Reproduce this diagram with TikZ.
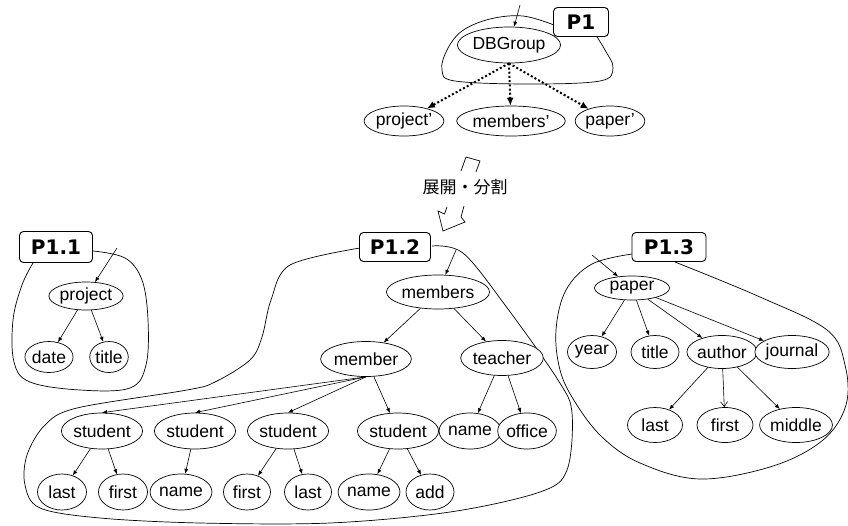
\documentclass[tikz,border=0pt]{standalone}
\usepackage{fontspec}
\setmainfont{Liberation Sans}
\newfontfamily\labelfont{DejaVu Sans}
\newfontfamily\jpfont{Noto Sans CJK JP}
\usetikzlibrary{arrows.meta,shapes.geometric}

\tikzset{
  elem/.style={ellipse, draw, line width=0.7pt, inner sep=0pt, fill=white,
    font=\fontsize{17.5}{17.5}\selectfont},
  part/.style={draw, rounded corners=4pt, line width=0.9pt, fill=white, inner sep=0pt,
    font=\labelfont\bfseries\fontsize{20}{20}\selectfont},
  edge/.style={line width=0.6pt, -{Latex[length=5pt,width=4pt]}},
  openedge/.style={line width=0.6pt, -{Straight Barb[length=5pt,width=7pt]}},
  split/.style={line width=2pt, dash pattern=on 2pt off 2.2pt, -{Latex[length=8pt,width=7pt]}},
  region/.style={line width=0.7pt},
  bolt/.style={line width=0.7pt, line join=miter}
}

\begin{document}
\begin{tikzpicture}[x=1pt,y=-1pt]
\useasboundingbox (0,0) rectangle (848,525);

% ---------- fragment outlines ----------
\draw[region] plot[smooth, tension=0.6] coordinates {(554,25) (523,16) (490,19) (462,31) (447,50) (442,70) (455,81) (530,84) (600,81) (613,68) (605,50) (597,37)};
\draw[region] plot[smooth, tension=0.6] coordinates {(93,251) (125,258) (142,280) (148,320) (146,365) (130,388) (80,390) (30,382) (14,362) (13,320) (22,285) (33,263)};
\draw[region] plot[smooth, tension=0.55] coordinates {(360,248) (290,265) (271,300) (262,337) (250,360) (215,382) (187,390) (77,408) (45,425) (27,455) (25,485) (40,508) (100,518) (200,523) (330,523) (450,512) (540,492) (567,470) (572,413) (558,380) (505,305) (463,253) (432,246)};
\draw[region] plot[smooth, tension=0.6] coordinates {(632,254) (592,264) (566,290) (556,330) (560,370) (575,402) (602,437) (640,463) (700,479) (773,466) (823,440) (846,405) (845,365) (827,330) (760,297) (675,262)};

% ---------- fragment labels ----------
\node[part, minimum width=55pt, minimum height=29pt] (p1) at (581,22) {P1};
\node[part, minimum width=73pt, minimum height=31pt] (p11) at (56,247) {P1.1};
\node[part, minimum width=71pt, minimum height=29pt] (p12) at (395,247) {P1.2};
\node[part, minimum width=74pt, minimum height=29pt] (p13) at (669,247) {P1.3};

% ---------- top level ----------
\node[elem, minimum width=80pt, minimum height=36pt] (dbg) at (509,45) {DBGroup};
\node[elem, minimum width=78pt, minimum height=30pt] (projp) at (404,121) {project'};
\node[elem, minimum width=92pt, minimum height=30pt] (membp) at (511,121) {members'};
\node[elem, minimum width=60pt, minimum height=30pt] (paperp) at (610,121) {paper'};

\coordinate (in0) at (520,5);
\draw[edge] (in0) -- (dbg);
\draw[split] (dbg.south) -- (projp);
\draw[split] (dbg.south) -- (membp);
\draw[split] (dbg.south) -- (paperp);

% ---------- expand / split arrow ----------
\coordinate (b1) at (461,171); \coordinate (b2) at (466,157);
\coordinate (b3) at (480,161); \coordinate (b4) at (476,172);
\draw[bolt] (b1) -- (b2) -- (b3) -- (b4);
\coordinate (c1) at (447,207); \coordinate (c2) at (444.5,214);
\coordinate (c3) at (438,211); \coordinate (c4) at (443,231);
\coordinate (c5) at (465,222); \coordinate (c6) at (461,217);
\coordinate (c7) at (464,206);
\draw[bolt] (c1) -- (c2) -- (c3) -- (c4) -- (c5) -- (c6) -- (c7);
\node[font=\jpfont\fontsize{17}{17}\selectfont, inner sep=1pt] (split) at (465,187) {展開・分割};

% ---------- P1.1 ----------
\node[elem, minimum width=74pt, minimum height=28pt] (project) at (86,296) {project};
\node[elem, minimum width=47pt, minimum height=31pt] (date) at (49,357) {date};
\node[elem, minimum width=38pt, minimum height=31pt] (ptitle) at (109,357) {title};
\coordinate (in1) at (117,248);
\draw[edge] (in1) -- (project);
\draw[edge] (project) -- (date);
\draw[edge] (project) -- (ptitle);

% ---------- P1.2 ----------
\node[elem, minimum width=79pt, minimum height=34pt] (members) at (438,292) {members};
\node[elem, minimum width=67pt, minimum height=35pt] (member) at (366,359) {member};
\node[elem, minimum width=68pt, minimum height=35pt] (teacher) at (502,358) {teacher};
\node[elem, minimum width=67pt, minimum height=36pt] (s1) at (102,431) {student};
\node[elem, minimum width=66pt, minimum height=36pt] (s2) at (195,431) {student};
\node[elem, minimum width=64pt, minimum height=36pt] (s3) at (288,431) {student};
\node[elem, minimum width=67pt, minimum height=36pt] (s4) at (398,431) {student};
\node[elem, minimum width=47pt, minimum height=36pt] (tname) at (470,431) {name};
\node[elem, minimum width=47pt, minimum height=36pt] (office) at (527,431) {office};
\node[elem, minimum width=49pt, minimum height=36pt] (s1last) at (62,492) {last};
\node[elem, minimum width=49pt, minimum height=36pt] (s1first) at (123,492) {first};
\node[elem, minimum width=47pt, minimum height=36pt] (s2name) at (181,492) {name};
\node[elem, minimum width=47pt, minimum height=36pt] (s3first) at (247,492) {first};
\node[elem, minimum width=47pt, minimum height=36pt] (s3last) at (308,492) {last};
\node[elem, minimum width=48pt, minimum height=36pt] (s4name) at (369,492) {name};
\node[elem, minimum width=48pt, minimum height=36pt] (s4add) at (430,492) {add};

\coordinate (in2) at (456,250);
\draw[edge] (in2) -- (members);
\draw[edge] (members) -- (member);
\draw[edge] (members) -- (teacher);
\draw[edge] (member.south) -- (s1.north);
\draw[edge] (member.south) -- (s2.north);
\draw[edge] (member.south) -- (s3.north);
\draw[edge] (member) -- (s4);
\draw[edge] (teacher) -- (tname);
\draw[edge] (teacher) -- (office);
\draw[edge] (s1) -- (s1last);
\draw[edge] (s1) -- (s1first);
\draw[edge] (s2) -- (s2name);
\draw[edge] (s3) -- (s3first);
\draw[edge] (s3) -- (s3last);
\draw[edge] (s4) -- (s4name);
\draw[edge] (s4) -- (s4add);

% ---------- P1.3 ----------
\node[elem, minimum width=75pt, minimum height=24pt] (paper) at (632,288) {paper};
\node[elem, minimum width=49pt, minimum height=33pt] (year) at (592,352) {year};
\node[elem, minimum width=48pt, minimum height=33pt] (atitle) at (655,352) {title};
\node[elem, minimum width=61pt, minimum height=33pt] (author) at (722,352) {author};
\node[elem, minimum width=70pt, minimum height=33pt] (journal) at (792,352) {journal};
\node[elem, minimum width=55pt, minimum height=35pt] (alast) at (655,425) {last};
\node[elem, minimum width=56pt, minimum height=35pt] (afirst) at (725,425) {first};
\node[elem, minimum width=68pt, minimum height=35pt] (amiddle) at (796,425) {middle};

\coordinate (in3) at (592,255);
\draw[edge] (in3) -- (paper);
\draw[edge] (paper) -- (year);
\draw[edge] (paper) -- (atitle);
\draw[edge] (paper) -- (author);
\draw[edge] (paper) -- (journal);
\draw[edge] (author) -- (alast);
\draw[openedge] (author) -- (afirst);
\draw[edge] (author) -- (amiddle);
\end{tikzpicture}
\end{document}
